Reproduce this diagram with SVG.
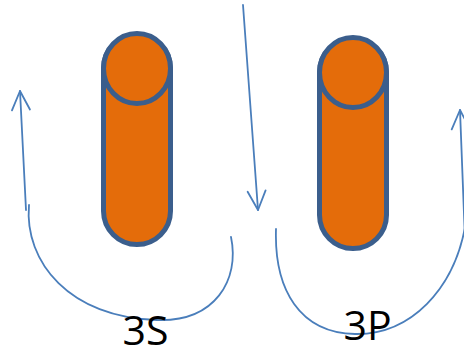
<svg xmlns="http://www.w3.org/2000/svg" width="464" height="354" viewBox="0 0 464 354">
<style>
.cyl{fill:#e46c0a;stroke:#3b5e8c;stroke-width:5}
.ln{fill:none;stroke:#4a7ebb;stroke-width:1.8;stroke-linecap:round}
.lbl{font-family:"Open Sans","Liberation Sans",sans-serif;font-size:41px;fill:#000;text-anchor:middle}
</style>
<defs>
<marker id="ah" markerUnits="userSpaceOnUse" markerWidth="40" markerHeight="40" refX="0" refY="0" orient="auto" overflow="visible">
<path d="M-19,-9 L0,0 L-19,9" fill="none" stroke="#4a7ebb" stroke-width="1.8" stroke-linecap="round" stroke-linejoin="round"/>
</marker>
</defs>
<rect width="464" height="354" fill="#fff"/>
<g id="cylinder-3s">
<path class="cyl" d="M103.5,68.5 A33.5,33.5 0 0 1 170.5,68.5 L170.5,211 A33.5,33.5 0 0 1 103.5,211 Z"/>
<ellipse class="cyl" cx="137" cy="68.5" rx="33.5" ry="35"/>
</g>
<g id="cylinder-3p" transform="translate(216,4)">
<path class="cyl" d="M103.5,68.5 A33.5,33.5 0 0 1 170.5,68.5 L170.5,211 A33.5,33.5 0 0 1 103.5,211 Z"/>
<ellipse class="cyl" cx="137" cy="68.5" rx="33.5" ry="35"/>
</g>
<g id="connectors">
<path class="ln" d="M26,210 L20,91" marker-end="url(#ah)"/>
<path class="ln" d="M29,205 C24,262 70,318 157,320 C215,322 240,280 231,237"/>
<path class="ln" d="M243,5 L258,210" marker-end="url(#ah)"/>
<path class="ln" d="M276,229 C274,290 300,333 355,334 C410,335 455,290 466,222"/>
<path class="ln" d="M465,240 L460,110" marker-end="url(#ah)"/>
</g>
<g id="label-3s"><text class="lbl" x="145.5" y="345">3S</text></g>
<g id="label-3p"><text class="lbl" x="367.5" y="340">3P</text></g>
</svg>
